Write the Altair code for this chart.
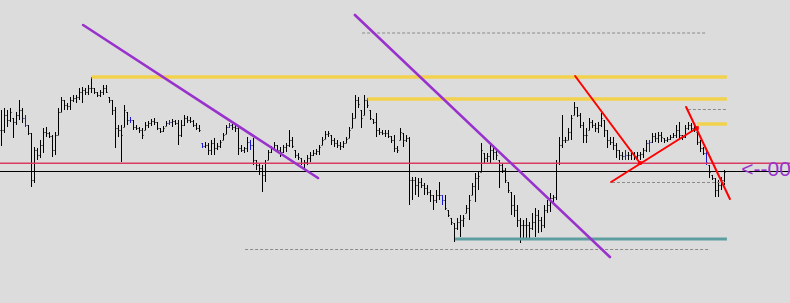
import altair as alt
import pandas as pd

# ---- OHLC data (price in chart points; no axis shown) ----
highs = [190,192,190,192,182,188,200,192,185,175,
         167,153,152,160,172,173,168,165,168,192,
         203,200,197,203,205,205,212,213,212,215,
         223,212,208,210,215,215,203,200,193,175,
         175,195,188,183,180,175,173,172,178,179,
         181,182,178,172,174,179,180,181,180,180,
         180,185,184,183,180,177,175,157,158,157,
         160,162,157,160,167,175,177,176,175,175,
         155,153,163,160,162,140,137,135,140,150,
         154,158,155,153,155,157,170,163,150,147,
         142,140,145,148,150,151,155,163,169,169,
         165,162,160,158,159,163,173,187,205,203,
         190,205,202,190,181,187,172,170,170,170,
         164,165,154,172,167,165,163,123,123,122,
         122,117,115,110,105,110,118,105,105,90,
         82,77,82,85,85,95,105,117,127,128,
         157,147,147,155,155,152,140,137,132,118,
         108,105,95,82,80,82,78,87,92,90,
         83,95,100,107,105,140,163,185,163,172,
         185,198,193,187,178,172,182,180,177,178,
         187,180,170,163,163,157,150,148,150,148,
         150,148,148,148,152,160,160,167,167,168,
         168,162,163,165,167,175,178,165,175,178,
         177,175,168,160,153,150,135,125,122,120,
         123,130]
lows = [154,167,173,178,162,175,180,177,173,165,
        113,117,140,142,147,163,162,143,145,165,
        188,190,190,190,198,197,200,197,205,205,
        207,206,203,203,205,207,197,185,152,163,
        138,173,175,177,170,170,167,161,170,172,
        174,175,170,167,168,174,175,173,175,155,
        163,174,177,177,173,170,168,152,152,145,
        145,145,150,152,160,166,172,170,168,145,
        148,147,148,150,135,130,125,108,118,140,
        147,150,147,143,147,148,153,152,142,140,
        135,132,135,138,144,145,145,155,161,163,
        155,153,152,150,152,157,162,172,182,192,
        172,185,192,180,176,163,165,165,163,162,
        157,148,147,160,153,158,95,100,105,103,
        112,105,105,98,90,97,100,95,90,83,
        75,58,70,63,73,87,80,105,98,110,
        128,137,138,137,140,140,112,127,117,107,
        85,83,73,57,60,62,60,70,63,67,
        68,72,87,88,97,100,135,152,157,160,
        160,185,183,172,157,157,170,172,168,167,
        173,163,152,155,150,142,140,140,140,140,
        140,140,140,140,142,148,148,157,158,157,
        158,157,158,160,162,162,162,160,162,170,
        168,168,155,148,145,135,122,120,103,103,
        110,115]
closes = [170,185,180,188,178,185,190,182,175,167,
          120,150,145,155,168,167,164,150,165,188,
          200,195,194,200,202,203,208,210,208,212,
          212,208,205,208,212,208,200,190,172,170,
          165,190,180,180,173,172,170,165,175,177,
          179,178,172,169,172,177,178,179,177,165,
          175,182,180,179,175,172,170,154,155,150,
          157,152,154,158,165,173,175,173,172,152,
          150,152,158,155,140,135,132,125,137,148,
          152,155,150,148,153,155,160,154,145,143,
          137,138,142,145,147,149,153,160,166,167,
          160,157,155,154,157,161,170,182,200,196,
          182,200,195,182,178,170,168,167,167,164,
          160,152,150,168,160,162,120,120,115,118,
          115,112,108,105,100,105,105,100,92,85,
          78,72,78,80,82,92,100,114,122,124,
          150,142,144,150,148,145,135,130,120,110,
          95,90,80,75,75,75,72,78,85,80,
          75,90,95,102,103,137,155,160,160,168,
          182,193,185,175,165,165,178,175,172,175,
          182,170,160,158,155,150,145,144,145,145,
          147,144,145,146,150,157,158,164,162,165,
          163,160,161,163,165,170,165,163,172,175,
          172,170,158,152,147,138,128,122,110,115,
          120,128]
blue_bars = [8, 43, 56, 67, 76, 83, 147, 208, 216, 235]

# ---- chart objects (bar index, price) ----
trend_x1 = [27.2, 117.8, 191.2, 203.2, 228.2]
trend_x2 = [105.5, 202.8, 212.8, 231.8, 242.8]
trend_y1 = [275, 285, 224, 118, 193]
trend_y2 = [122, 43, 137, 172, 101]
trend_colors = ["#9932cc", "#9932cc", "#ff0000", "#ff0000", "#ff0000"]
trend_widths = [2.6, 2.6, 2.0, 2.0, 2.0]

# horizontal levels: two full-width lines, three gold levels, one teal level
hline_x1 = [-0.5, -0.5, 30, 122, 231.8, 151.2]
hline_x2 = [262.83, 262.83, 241.8, 241.8, 241.8, 241.8]
hline_y = [136.8, 128.5, 223, 201, 176, 61]
hline_colors = ["#d93a62", "#000000", "#f2d24c", "#f2d24c", "#f2d24c", "#5f9ea0"]
hline_widths = [1.6, 1.0, 3.5, 3.5, 3.5, 3.0]

dash_x1 = [120.2, 228.8, 203.5, 81.2]
dash_x2 = [235.2, 241.5, 241.5, 236.2]
dash_y = [267.5, 191, 118, 51]

dot_x = [212.8, 231.8]
dot_y = [137, 172]

label_text = ["<--00"]
label_x = [246.6]
label_y = [124]

# ---- tables ----
n = len(highs)
opens = []
for i in range(n):
    o = closes[i - 1] if i > 0 else closes[0]
    opens.append(min(max(o, lows[i]), highs[i]))
bars = pd.DataFrame({
    "i": list(range(n)), "high": highs, "low": lows,
    "open": opens, "close": closes,
    "col": ["#1a1ad0" if k in blue_bars else "#000000" for k in range(n)],
})
trend_df = pd.DataFrame({"x1": trend_x1, "x2": trend_x2, "y1": trend_y1, "y2": trend_y2,
                         "c": trend_colors, "w": trend_widths})
hline_df = pd.DataFrame({"x1": hline_x1, "x2": hline_x2, "y": hline_y,
                         "c": hline_colors, "w": hline_widths})
dash_df = pd.DataFrame({"x1": dash_x1, "x2": dash_x2, "y": dash_y})
dot_df = pd.DataFrame({"x": dot_x, "y": dot_y})
label_df = pd.DataFrame({"t": label_text, "x": label_x, "y": label_y})

xs = alt.Scale(domain=[-0.5, 262.83], nice=False, zero=False)
ys = alt.Scale(domain=[-3, 300], nice=False, zero=False)
X = lambda f: alt.X(f, type="quantitative", scale=xs, axis=None)
Y = lambda f: alt.Y(f, type="quantitative", scale=ys, axis=None)

hl = alt.Chart(bars).mark_rule(strokeWidth=1).encode(
    x=X("i"), y=Y("low"), y2="high", color=alt.Color("col:N", scale=None))
op = alt.Chart(bars).transform_calculate(xa="datum.i - 0.34").mark_rule(
    strokeWidth=1, yOffset=0.5, y2Offset=0.5).encode(
    x=X("xa"), x2="i", y=Y("open"), color=alt.Color("col:N", scale=None))
cl = alt.Chart(bars).transform_calculate(xb="datum.i + 0.34").mark_rule(
    strokeWidth=1, yOffset=0.5, y2Offset=0.5).encode(
    x=X("i"), x2="xb", y=Y("close"), color=alt.Color("col:N", scale=None))

dashes = alt.Chart(dash_df).mark_rule(strokeWidth=1, strokeDash=[3, 2], color="#8a8a8a",
                                      yOffset=0.5, y2Offset=0.5).encode(
    x=X("x1"), x2="x2", y=Y("y"))
hlines = alt.Chart(hline_df).mark_rule().encode(
    x=X("x1"), x2="x2", y=Y("y"), color=alt.Color("c:N", scale=None),
    strokeWidth=alt.StrokeWidth("w:Q", scale=None))
trends = alt.Chart(trend_df).mark_rule(strokeCap="round").encode(
    x=X("x1"), x2="x2", y=Y("y1"), y2="y2", color=alt.Color("c:N", scale=None),
    strokeWidth=alt.StrokeWidth("w:Q", scale=None))
dots = alt.Chart(dot_df).mark_point(filled=True, shape="square", size=14, color="#ff0000",
                                     opacity=1).encode(x=X("x"), y=Y("y"))
label = alt.Chart(label_df).mark_text(align="left", baseline="alphabetic", fontSize=21,
                                      font="Liberation Sans", color="#9932cc").encode(
    x=X("x"), y=Y("y"), text="t:N")

chart = alt.layer(hl, op, cl, dashes, hlines, trends, dots, label).properties(
    width=790, height=303, background="#dcdcdc", padding=0,
    autosize=alt.AutoSizeParams(type="none"),
).configure_view(stroke=None, fill="#dcdcdc")

chart.save("out.html", embed_options={"renderer": "svg", "actions": False})
